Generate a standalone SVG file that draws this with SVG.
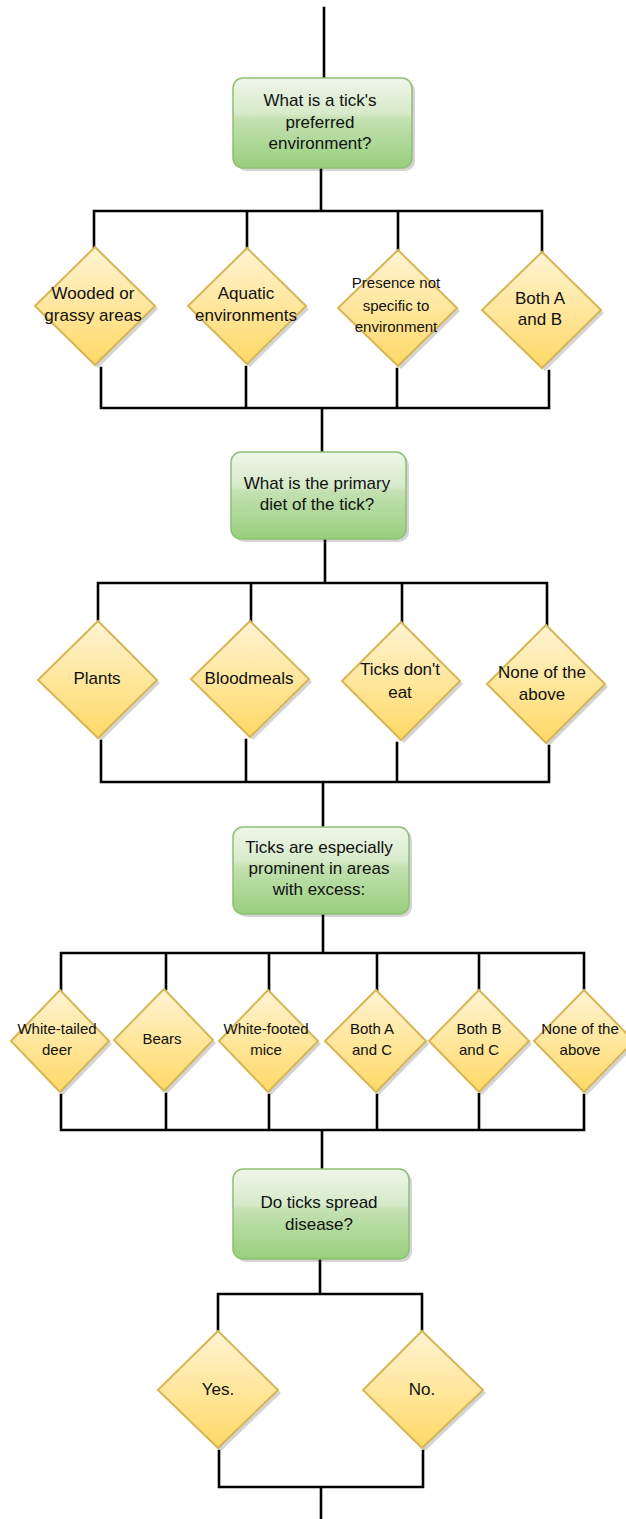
<svg xmlns="http://www.w3.org/2000/svg" width="626" height="1519" viewBox="0 0 626 1519">
<defs>
<linearGradient id="gG" x1="0" y1="0" x2="0" y2="1">
<stop offset="0" stop-color="#eef6e9"/>
<stop offset="0.4" stop-color="#d6eac9"/>
<stop offset="0.45" stop-color="#c4e1b2"/>
<stop offset="1" stop-color="#97cf7c"/>
</linearGradient>
<linearGradient id="gY" x1="0" y1="0" x2="0" y2="1">
<stop offset="0" stop-color="#fff4d3"/>
<stop offset="1" stop-color="#ffd966"/>
</linearGradient>
<style>
.ln{fill:none;stroke:#000;stroke-width:2.6;stroke-linecap:square;stroke-linejoin:miter}
.box{fill:url(#gG);stroke:#8fbf73;stroke-width:1.5}
.dia{fill:url(#gY);stroke:#d6b656;stroke-width:2}
.shd{fill:#000;opacity:0.17}
text{font-family:"Liberation Sans",Arial,Helvetica,sans-serif;fill:#111;text-anchor:middle}
.t17{font-size:17px}
.t15{font-size:15px}
</style>
</defs>
<rect width="626" height="1519" fill="#fff"/>

<g id="connectors">
<path class="ln" d="M324,8 V78"/>
<path class="ln" d="M321,168 V211 M94,247 V211 H542 V252 M247,211 V248 M398,211 V250"/>
<path class="ln" d="M101,368 V408 H549 V371 M246,367 V408 M397,369 V408 M322,408 V452"/>
<path class="ln" d="M325,539 V583 M98,621 V583 H547 V625 M251,583 V621 M402,583 V622"/>
<path class="ln" d="M101,741 V782 H549 V746 M246,740 V782 M397,743 V782 M323,782 V827"/>
<path class="ln" d="M323,914 V953 M61,990 V953 H584 V990 M166,953 V989 M269,953 V990 M377,953 V990 M479,953 V990"/>
<path class="ln" d="M61,1095 V1130 H584 V1095 M166,1094 V1130 M269,1095 V1130 M377,1095 V1130 M479,1094 V1130 M322,1130 V1169"/>
<path class="ln" d="M320,1259 V1294 M218,1331 V1294 H422 V1331"/>
<path class="ln" d="M219,1451 V1487 H423 V1451 M321,1487 V1519"/>
</g>

<g id="q1">
<rect class="shd" x="236" y="81" width="179" height="90" rx="10"/>
<rect class="box" x="233" y="78" width="179" height="90" rx="10"/>
<text class="t17" x="320" y="106">What is a tick's</text>
<text class="t17" x="320" y="128">preferred</text>
<text class="t17" x="320" y="149">environment?</text>
</g>

<g id="a1">
<polygon class="shd" points="38,309 98,250 158,309 98,368"/>
<polygon class="dia" points="35,306 95,247 155,306 95,365"/>
<text class="t17" x="93" y="299">Wooded or</text>
<text class="t17" x="93" y="321">grassy areas</text>
</g>
<g id="b1">
<polygon class="shd" points="191,309 250,251 309,309 250,367"/>
<polygon class="dia" points="188,306 247,248 306,306 247,364"/>
<text class="t17" x="246" y="299">Aquatic</text>
<text class="t17" x="246" y="321">environments</text>
</g>
<g id="c1">
<polygon class="shd" points="341,311 401,253 460,311 401,369"/>
<polygon class="dia" points="338,308 398,250 457,308 398,366"/>
<text class="t15" x="396" y="288">Presence not</text>
<text class="t15" x="396" y="311">specific to</text>
<text class="t15" x="396" y="332">environment</text>
</g>
<g id="d1">
<polygon class="shd" points="485,313 545,255 604,313 545,371"/>
<polygon class="dia" points="482,310 542,252 601,310 542,368"/>
<text class="t17" x="540" y="304">Both A</text>
<text class="t17" x="540" y="325">and B</text>
</g>

<g id="q2">
<rect class="shd" x="234" y="455" width="175" height="87" rx="10"/>
<rect class="box" x="231" y="452" width="175" height="87" rx="10"/>
<text class="t17" x="317" y="489">What is the primary</text>
<text class="t17" x="317" y="510">diet of the tick?</text>
</g>

<g id="a2">
<polygon class="shd" points="41,683 101,624 160,683 101,741"/>
<polygon class="dia" points="38,680 98,621 157,680 98,738"/>
<text class="t17" x="97" y="684">Plants</text>
</g>
<g id="b2">
<polygon class="shd" points="194,682 253,624 312,682 253,740"/>
<polygon class="dia" points="191,679 250,621 309,679 250,737"/>
<text class="t17" x="249" y="684">Bloodmeals</text>
</g>
<g id="c2">
<polygon class="shd" points="345,684 404,625 463,684 404,743"/>
<polygon class="dia" points="342,681 401,622 460,681 401,740"/>
<text class="t17" x="400" y="675">Ticks don't</text>
<text class="t17" x="400" y="698">eat</text>
</g>
<g id="d2">
<polygon class="shd" points="490,687 549,628 608,687 549,746"/>
<polygon class="dia" points="487,684 546,625 605,684 546,743"/>
<text class="t17" x="542" y="678">None of the</text>
<text class="t17" x="542" y="700">above</text>
</g>

<g id="q3">
<rect class="shd" x="236" y="830" width="176" height="87" rx="10"/>
<rect class="box" x="233" y="827" width="176" height="87" rx="10"/>
<text class="t17" x="319" y="853">Ticks are especially</text>
<text class="t17" x="319" y="874">prominent in areas</text>
<text class="t17" x="319" y="895">with excess:</text>
</g>

<g id="a3">
<polygon class="shd" points="14,1044 63,993 112,1044 63,1095"/>
<polygon class="dia" points="11,1041 60,990 109,1041 60,1092"/>
<text class="t15" x="57" y="1034">White-tailed</text>
<text class="t15" x="57" y="1055">deer</text>
</g>
<g id="b3">
<polygon class="shd" points="117,1043 167,992 216,1043 167,1094"/>
<polygon class="dia" points="114,1040 164,989 213,1040 164,1091"/>
<text class="t15" x="162" y="1044">Bears</text>
</g>
<g id="c3">
<polygon class="shd" points="222,1044 271,993 321,1044 271,1095"/>
<polygon class="dia" points="219,1041 268,990 318,1041 268,1092"/>
<text class="t15" x="266" y="1034">White-footed</text>
<text class="t15" x="266" y="1055">mice</text>
</g>
<g id="d3">
<polygon class="shd" points="328,1044 379,993 429,1044 379,1095"/>
<polygon class="dia" points="325,1041 376,990 426,1041 376,1092"/>
<text class="t15" x="372" y="1034">Both A</text>
<text class="t15" x="372" y="1055">and C</text>
</g>
<g id="e3">
<polygon class="shd" points="432,1044 482,993 532,1044 482,1095"/>
<polygon class="dia" points="429,1041 479,990 529,1041 479,1092"/>
<text class="t15" x="479" y="1034">Both B</text>
<text class="t15" x="479" y="1055">and C</text>
</g>
<g id="f3">
<polygon class="shd" points="537,1044 587,993 637,1044 587,1095"/>
<polygon class="dia" points="534,1041 584,990 634,1041 584,1092"/>
<text class="t15" x="580" y="1034">None of the</text>
<text class="t15" x="580" y="1055">above</text>
</g>

<g id="q4">
<rect class="shd" x="236" y="1172" width="176" height="90" rx="10"/>
<rect class="box" x="233" y="1169" width="176" height="90" rx="10"/>
<text class="t17" x="319" y="1208">Do ticks spread</text>
<text class="t17" x="319" y="1230">disease?</text>
</g>

<g id="yes">
<polygon class="shd" points="161,1393 221,1334 281,1393 221,1451"/>
<polygon class="dia" points="158,1390 218,1331 278,1390 218,1448"/>
<text class="t17" x="218" y="1395">Yes.</text>
</g>
<g id="no">
<polygon class="shd" points="366,1393 425,1334 486,1393 425,1451"/>
<polygon class="dia" points="363,1390 422,1331 483,1390 422,1448"/>
<text class="t17" x="422" y="1395">No.</text>
</g>
</svg>
